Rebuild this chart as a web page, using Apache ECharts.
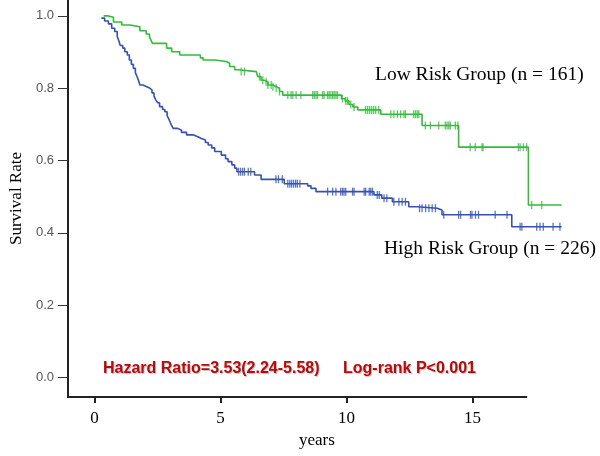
<!DOCTYPE html>
<html>
<head>
<meta charset="utf-8">
<script src="https://cdn.jsdelivr.net/npm/echarts@6/dist/echarts.min.js"></script>
<style>html,body{margin:0;padding:0;background:#fff}#c{width:600px;height:456px}</style>
</head>
<body>
<div id="c"></div>
<script>
// Kaplan-Meier step points [years, survival] (value after each drop)
const lowRiskSteps = [[0.36,1.0],[0.55,0.996],[0.75,0.983],[1.08,0.975],[1.41,0.970],[1.80,0.959],[2.05,0.950],[2.18,0.942],[2.24,0.933],[2.30,0.924],[2.86,0.911],[3.06,0.901],[3.38,0.892],[4.20,0.884],[4.31,0.878],[4.77,0.874],[5.23,0.869],[5.36,0.860],[5.56,0.851],[5.70,0.846],[6.42,0.841],[6.48,0.832],[6.61,0.822],[6.74,0.818],[6.88,0.809],[7.08,0.804],[7.21,0.800],[7.34,0.791],[7.47,0.781],[9.80,0.771],[9.95,0.765],[10.10,0.755],[10.25,0.748],[10.45,0.740],[11.36,0.728],[13.00,0.697],[14.45,0.637],[17.22,0.477],[18.54,0.477]];
const highRiskSteps = [[0.27,0.994],[0.40,0.986],[0.55,0.978],[0.68,0.966],[0.80,0.957],[0.90,0.943],[0.97,0.930],[1.02,0.918],[1.12,0.911],[1.20,0.901],[1.30,0.892],[1.38,0.878],[1.46,0.866],[1.54,0.855],[1.62,0.843],[1.68,0.833],[1.74,0.823],[1.80,0.809],[1.92,0.805],[2.05,0.800],[2.20,0.795],[2.28,0.787],[2.36,0.778],[2.43,0.768],[2.50,0.760],[2.58,0.749],[2.70,0.741],[2.79,0.735],[2.88,0.724],[2.94,0.716],[2.99,0.708],[3.05,0.698],[3.12,0.689],[3.30,0.684],[3.45,0.678],[3.65,0.671],[3.91,0.666],[4.10,0.661],[4.24,0.657],[4.40,0.650],[4.51,0.643],[4.65,0.635],[4.77,0.625],[5.03,0.615],[5.20,0.605],[5.30,0.597],[5.45,0.588],[5.56,0.579],[5.65,0.569],[6.35,0.560],[6.61,0.548],[7.53,0.536],[8.46,0.530],[8.59,0.523],[8.79,0.514],[11.09,0.505],[11.40,0.496],[11.82,0.486],[12.47,0.472],[12.81,0.468],[13.60,0.463],[13.79,0.450],[16.56,0.417],[18.54,0.417]];
// censored times (years)
const lowRiskCensored = [5.82,5.95,6.55,6.68,6.81,6.88,7.01,7.08,7.21,7.34,7.67,7.80,7.87,8.00,8.19,8.66,8.72,8.79,8.85,9.05,9.11,9.25,9.31,9.38,9.45,9.51,9.58,9.64,9.84,9.97,10.04,10.17,10.30,10.76,10.84,10.92,11.00,11.08,11.16,11.28,11.76,11.88,12.02,12.15,12.28,12.34,12.67,12.74,12.81,12.87,13.13,13.33,13.66,13.92,13.99,14.06,14.12,14.32,14.42,14.91,15.11,15.38,15.42,16.82,16.89,17.02,17.15,17.35,17.75];
const highRiskCensored = [5.72,5.80,5.88,5.95,6.10,6.20,7.20,7.30,7.45,7.67,7.75,7.82,7.90,7.98,8.05,8.15,9.25,9.45,9.58,9.77,9.84,9.90,9.97,10.24,10.30,10.70,10.76,10.90,10.96,11.03,11.22,11.30,11.49,11.60,11.88,12.08,12.21,12.34,12.90,13.00,13.14,13.27,13.40,13.53,13.86,14.45,14.53,14.92,14.98,15.12,15.24,15.90,16.37,16.89,16.96,17.55,17.68,17.81,18.20,18.47];
const xTicks = [0,5,10,15];
const yTicks = [0,0.2,0.4,0.6,0.8,1.0];
const lowLabel = 'Low Risk Group (n = 161)';
const highLabel = 'High Risk Group (n = 226)';
const hrText = 'Hazard Ratio=3.53(2.24-5.58)';
const pText = 'Log-rank P<0.001';

const X_MIN = -1.055, X_LINE_END = 17.17, X_MAX = 18.7;
const Y_MIN = -0.054, Y_MAX = 1.044;

function levelAt(steps, t){
  let s = steps[0][1];
  for (const p of steps){ if (p[0] <= t) s = p[1]; else break; }
  return s;
}
const lowCens = lowRiskCensored.map(t => [t, levelAt(lowRiskSteps, t)]);
const highCens = highRiskCensored.map(t => [t, levelAt(highRiskSteps, t)]);

const green = '#33bb3c';
const blue = '#3552b0';
const serif = '"Liberation Serif","Times New Roman",serif';
const sans = '"Liberation Sans",Arial,sans-serif';
const red = '#b80a0a';

const chart = echarts.init(document.getElementById('c'), null, {renderer:'canvas'});
chart.setOption({
  animation:false,
  backgroundColor:'#fff',
  grid:{left:66, right:34.3, top:0, bottom:59, containLabel:false},
  xAxis:{
    type:'value', min:X_MIN, max:X_MAX,
    name:'years', nameLocation:'middle', nameGap:31,
    nameTextStyle:{fontFamily:serif, fontSize:17, color:'#000'},
    axisLine:{show:false, onZero:false},
    axisTick:{show:true, customValues:xTicks, length:6, lineStyle:{color:'#222', width:2}},
    axisLabel:{customValues:xTicks, fontFamily:serif, fontSize:17, color:'#000', margin:13},
    splitLine:{show:false}
  },
  yAxis:{
    type:'value', min:Y_MIN, max:Y_MAX,
    name:'Survival Rate', nameLocation:'middle', nameGap:41, nameRotate:90,
    nameTextStyle:{fontFamily:serif, fontSize:17, color:'#000'},
    axisLine:{show:true, onZero:false, lineStyle:{color:'#222', width:2}},
    axisTick:{show:true, customValues:yTicks, length:10, lineStyle:{color:'#333', width:1}},
    axisLabel:{customValues:yTicks, fontFamily:sans, fontSize:13, color:'#555', margin:14,
      formatter:v => v.toFixed(1)},
    splitLine:{show:false}
  },
  series:[
    {type:'line', step:'end', data:lowRiskSteps, symbol:'none',
      lineStyle:{color:green, width:1.6}},
    {type:'line', step:'end', data:highRiskSteps, symbol:'none',
      lineStyle:{color:blue, width:1.6}},
    {type:'scatter', data:lowCens, symbol:'rect', symbolSize:[1.3,8],
      itemStyle:{color:green}},
    {type:'scatter', data:highCens, symbol:'rect', symbolSize:[1.3,8],
      itemStyle:{color:blue}}
  ]
});
const p0 = chart.convertToPixel({gridIndex:0}, [X_MIN, Y_MIN]);
const p1 = chart.convertToPixel({gridIndex:0}, [X_LINE_END, Y_MIN]);
chart.setOption({
  graphic:[
    {type:'line', shape:{x1:p0[0]-1, y1:p0[1], x2:p1[0], y2:p1[1]}, style:{stroke:'#222', lineWidth:2}},
    {type:'text', left:375, top:65, style:{text:lowLabel, font:'19.5px '+serif, fill:'#000'}},
    {type:'text', left:384, top:239, style:{text:highLabel, font:'19.5px '+serif, fill:'#000'}},
    {type:'text', left:103, top:361, style:{text:hrText, font:'bold 16px '+sans, fill:red,
      textShadowColor:'rgba(0,0,0,0.25)', textShadowOffsetX:1, textShadowOffsetY:1, textShadowBlur:1}},
    {type:'text', left:343, top:361, style:{text:pText, font:'bold 16px '+sans, fill:red,
      textShadowColor:'rgba(0,0,0,0.25)', textShadowOffsetX:1, textShadowOffsetY:1, textShadowBlur:1}}
  ]
});
</script>
</body>
</html>
